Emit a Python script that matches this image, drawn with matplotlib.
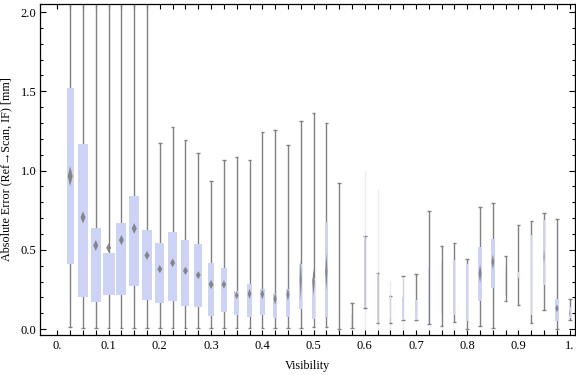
import numpy as np
import matplotlib
matplotlib.use("Agg")
import matplotlib.pyplot as plt
from matplotlib.patches import Polygon

plt.rcParams['font.family'] = ['Liberation Serif', 'DejaVu Serif']

# ---- data ----
visibility = [0.025 * (i + 1) for i in range(40)]

whisker_lo = [0.015, 0.006, 0.006, 0.006, 0.006, 0.006, 0.006, 0.006, 0.006, 0.006,
              0.006, 0.006, 0.006, 0.006, 0.006, 0.006, 0.006, 0.006, 0.006, 0.015,
              0.015, 0.004, 0.010, 0.131, 0.042, 0.042, 0.061, 0.055, 0.032, 0.021,
              0.044, 0.004, 0.019, 0.006, 0.179, 0.151, 0.040, 0.120, 0.004, 0.057]
whisker_hi = [2.20, 2.20, 2.20, 2.20, 2.20, 2.20, 2.20, 1.171, 1.273, 1.190,
              1.108, 0.932, 1.064, 1.083, 1.064, 1.241, 1.254, 1.159, 1.310, 1.361,
              1.300, 0.919, 0.166, 0.587, 0.357, 0.208, 0.334, 0.347, 0.744, 0.524,
              0.545, 0.442, 0.772, 0.793, 0.461, 0.658, 0.681, 0.732, 0.692, 0.191]
# faint extended range (only a few sparse bins)
faint_lo = [np.nan] * 23 + [0.0, 0.0, 0.0, 0.0] + [np.nan] * 13
faint_hi = [np.nan] * 23 + [1.003, 0.881, 0.303, 0.061] + [np.nan] * 13

q1 = [0.410, 0.204, 0.172, 0.217, 0.217, 0.273, 0.185, 0.166, 0.179, 0.147,
      0.141, 0.084, 0.109, 0.090, 0.078, 0.090, 0.071, 0.078, 0.128, 0.065,
      0.078, 0.036, 0.012, 0.131, 0.042, 0.070, 0.068, 0.055, 0.035, 0.099,
      0.088, 0.052, 0.179, 0.261, 0.208, 0.320, 0.088, 0.278, 0.052, 0.068]
q3 = [1.520, 1.167, 0.640, 0.480, 0.669, 0.839, 0.625, 0.543, 0.612, 0.562,
      0.536, 0.416, 0.383, 0.240, 0.288, 0.252, 0.231, 0.254, 0.414, 0.324,
      0.677, 0.278, 0.099, 0.587, 0.357, 0.208, 0.200, 0.183, 0.387, 0.429,
      0.435, 0.410, 0.519, 0.566, 0.397, 0.360, 0.593, 0.688, 0.189, 0.141]
box_width = [0.0136, 0.0214, 0.0195, 0.0234, 0.0195, 0.0195, 0.0195, 0.0175, 0.0162, 0.0156,
             0.0156, 0.0127, 0.0117, 0.0097, 0.0097, 0.0097, 0.0084, 0.0078, 0.0053, 0.0064,
             0.0058, 0.0010, 0.0020, 0.0020, 0.0014, 0.0014, 0.0030, 0.0030, 0.0016, 0.0030,
             0.0039, 0.0039, 0.0078, 0.0072, 0.0020, 0.0014, 0.0020, 0.0045, 0.0084, 0.0039]
mean = [0.965, 0.705, 0.528, 0.513, 0.562, 0.635, 0.465, 0.379, 0.418, 0.368,
        0.341, 0.282, 0.282, 0.213, 0.223, 0.221, 0.191, 0.219, 0.310, 0.298,
        0.363, np.nan, np.nan, np.nan, np.nan, np.nan, np.nan, np.nan, np.nan, np.nan,
        np.nan, np.nan, 0.351, 0.425, np.nan, np.nan, np.nan, 0.456, 0.131, 0.099]
mean_ci = [0.063, 0.038, 0.034, 0.028, 0.032, 0.034, 0.028, 0.026, 0.027, 0.026,
           0.025, 0.029, 0.026, 0.024, 0.032, 0.032, 0.037, 0.038, 0.126, 0.085,
           0.117, np.nan, np.nan, np.nan, np.nan, np.nan, np.nan, np.nan, np.nan, np.nan,
           np.nan, np.nan, 0.057, 0.047, np.nan, np.nan, np.nan, 0.050, 0.025, 0.019]

x_major = [0.0, 0.1, 0.2, 0.3, 0.4, 0.5, 0.6, 0.7, 0.8, 0.9, 1.0]
x_labels = ["0.", "0.1", "0.2", "0.3", "0.4", "0.5", "0.6", "0.7", "0.8", "0.9", "1."]
y_major = [0.0, 0.5, 1.0, 1.5, 2.0]
y_labels = ["0.0", "0.5", "1.0", "1.5", "2.0"]

# ---- figure ----
fig = plt.figure(figsize=(5.76, 3.75), dpi=100)
ax = fig.add_axes([40 / 576, 1 - 334.5 / 375, 535 / 576, 330.5 / 375])
ax.set_xlim(-0.0339, 1.0103)
ax.set_ylim(-0.0334, 2.0505)

wcol = '#808080'
bcol = '#ccd3f4'
cap = 0.0035

for i, x in enumerate(visibility):
    sparse = not np.isnan(faint_lo[i])
    if sparse:
        ax.plot([x, x], [faint_lo[i], faint_hi[i]], color=wcol, lw=1.0, alpha=0.15,
                zorder=1, solid_capstyle='butt')
    ax.plot([x, x], [whisker_lo[i], whisker_hi[i]], color=wcol, lw=1.0,
            alpha=0.35 if sparse else 1.0, zorder=2, solid_capstyle='butt')
    for yv in (whisker_lo[i], whisker_hi[i]):
        ax.plot([x - cap, x + cap], [yv, yv], color=wcol, lw=1.0, zorder=2,
                solid_capstyle='butt')
    bw = box_width[i]
    ax.bar(x, q3[i] - q1[i], bottom=q1[i], width=bw, color=bcol, linewidth=0, zorder=3)
    if not np.isnan(mean[i]):
        dw = min(0.75 * bw, 0.0097) / 2
        h = mean_ci[i]
        m = mean[i]
        ax.add_patch(Polygon([[x, m - h], [x + dw, m], [x, m + h], [x - dw, m]],
                             closed=True, facecolor='#7d7d7d', edgecolor='none',
                             alpha=0.9 if bw > 0.005 else 0.45, zorder=4))

# ticks
ax.set_xticks(x_major)
ax.set_xticklabels(x_labels)
ax.set_xticks([v for v in visibility if abs(round(v * 10) - v * 10) > 1e-6], minor=True)
ax.set_yticks(y_major)
ax.set_yticklabels(y_labels)
ax.set_yticks([k / 10 for k in range(21) if k % 5 != 0], minor=True)

ax.tick_params(axis='both', which='both', direction='in', colors='black',
               labelsize=9, width=0.8)
ax.tick_params(axis='x', which='both', length=3.8, top=True, pad=4)
ax.tick_params(axis='y', which='major', length=4.0, right=True, pad=2.5)
ax.tick_params(axis='y', which='minor', length=2.2, right=True)
for s in ax.spines.values():
    s.set_linewidth(0.9)

ax.set_xlabel("Visibility", fontsize=8.7, labelpad=6)
ax.set_ylabel("Absolute Error (Ref\u2192Scan, IF) [mm]", fontsize=8.7, labelpad=6)

fig.savefig("out.png", dpi=100)
